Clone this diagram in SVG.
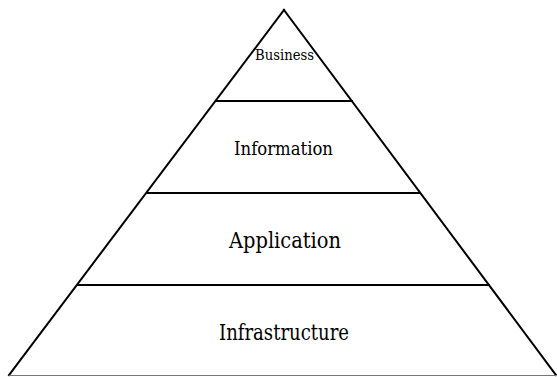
<svg xmlns="http://www.w3.org/2000/svg" width="557" height="377" viewBox="0 0 557 377">
<style>
.e{stroke:#000;stroke-width:2;fill:none;stroke-linecap:square}
.t{font-family:'DejaVu Serif',serif;fill:#000;text-anchor:middle}
</style>
<rect width="557" height="377" fill="#fff"/>
<g id="connectors">
<line class="e" x1="284" y1="10" x2="9" y2="375"/>
<line class="e" x1="284" y1="10" x2="556" y2="375"/>
<line x1="9" y1="375.5" x2="557" y2="375.5" stroke="#777" stroke-width="1"/>
<line class="e" x1="216" y1="101" x2="352" y2="101"/>
<line class="e" x1="147" y1="193" x2="420" y2="193"/>
<line class="e" x1="78" y1="285" x2="489" y2="285"/>
</g>
<g id="business"><text class="t" x="284.5" y="60" font-size="15" textLength="59" lengthAdjust="spacingAndGlyphs">Business</text></g>
<g id="information"><text class="t" x="283.5" y="155" font-size="19" textLength="99" lengthAdjust="spacingAndGlyphs">Information</text></g>
<g id="application"><text class="t" x="285" y="248" font-size="21.5" textLength="112" lengthAdjust="spacingAndGlyphs">Application</text></g>
<g id="infrastructure"><text class="t" x="284" y="340" font-size="21.7" textLength="130" lengthAdjust="spacingAndGlyphs">Infrastructure</text></g>
</svg>
